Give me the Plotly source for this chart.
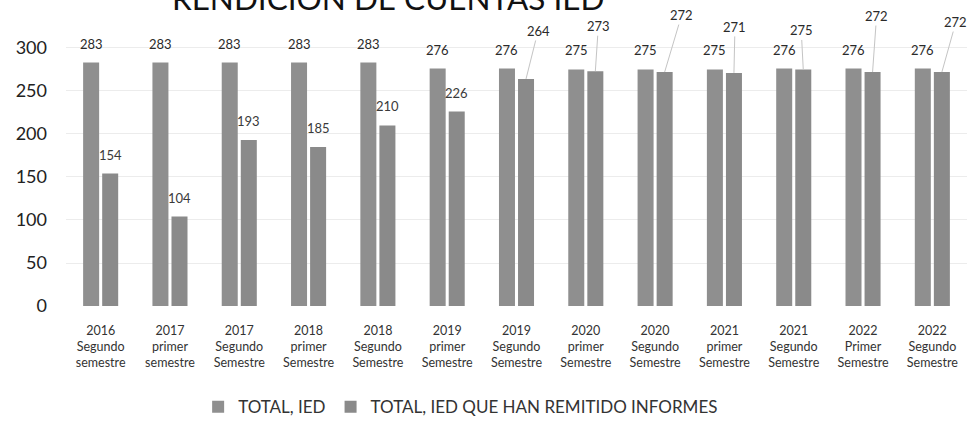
import plotly.graph_objects as go

# ---- data ----
periodos = [
    "2016<br>Segundo<br>semestre",
    "2017<br>primer<br>semestre",
    "2017<br>Segundo<br>Semestre",
    "2018<br>primer<br>Semestre",
    "2018<br>Segundo<br>Semestre",
    "2019<br>primer<br>Semestre",
    "2019<br>Segundo<br>Semestre",
    "2020<br>primer<br>Semestre",
    "2020<br>Segundo<br>Semestre",
    "2021<br>primer<br>Semestre",
    "2021<br>Segundo<br>Semestre",
    "2022<br>Primer<br>Semestre",
    "2022<br>Segundo<br>Semestre",
]
total_ied = [283, 283, 283, 283, 283, 276, 276, 275, 275, 275, 276, 276, 276]
ied_remitieron = [154, 104, 193, 185, 210, 226, 264, 273, 272, 271, 275, 272, 272]
series_names = ["TOTAL, IED", "TOTAL, IED QUE HAN REMITIDO INFORMES"]
y_ticks = [0, 50, 100, 150, 200, 250, 300]

# ---- style ----
FONT = "Lato"
BAR_COLOR_1 = "#8f8f8f"
BAR_COLOR_2 = "#8a8a8a"
BARGAP = 0.45
BARGROUPGAP = 0.16
# leader-line label offsets (pixels) for the second series, by index
leader_offsets = {6: (12, -48), 7: (3, -45), 8: (17, -57), 9: (1, -46),
                  10: (-2, -39), 11: (4, -56), 12: (14, -50)}

xs = list(range(len(periodos)))
half = (1 - BARGAP) / 4.0

fig = go.Figure()
fig.add_trace(go.Bar(x=xs, y=total_ied, name=series_names[0],
                     marker=dict(color=BAR_COLOR_1, line=dict(width=0))))
fig.add_trace(go.Bar(x=xs, y=ied_remitieron, name=series_names[1],
                     marker=dict(color=BAR_COLOR_2, line=dict(width=0))))

annotations = []
for i, v in enumerate(total_ied):
    annotations.append(dict(x=i - half, y=v, xref="x", yref="y", text=str(v),
                            showarrow=False, yshift=19, yanchor="middle",
                            font=dict(family=FONT, size=13, color="#2a2a2a")))
for i, v in enumerate(ied_remitieron):
    if i in leader_offsets:
        ax, ay = leader_offsets[i]
        annotations.append(dict(x=i + half, y=v, xref="x", yref="y", text=str(v),
                                showarrow=True, arrowhead=0, arrowwidth=1,
                                arrowcolor="#c4c4c4", ax=ax, ay=ay, standoff=0,
                                font=dict(family=FONT, size=13, color="#2a2a2a")))
    else:
        annotations.append(dict(x=i + half, y=v, xref="x", yref="y", text=str(v),
                                showarrow=False, yshift=19, yanchor="middle",
                                font=dict(family=FONT, size=13, color="#3a3a3a")))

fig.update_layout(
    width=968, height=425,
    margin=dict(l=66, r=1, t=14, b=119),
    paper_bgcolor="white", plot_bgcolor="white",
    barmode="group", bargap=BARGAP, bargroupgap=BARGROUPGAP,
    font=dict(family=FONT, color="#222"),
    title=dict(text="RENDICIÓN DE CUENTAS IED", x=0.401, xanchor="center",
               xref="container", yref="container", y=0.976, yanchor="bottom",
               font=dict(family=FONT, size=31.5, color="#111")),
    xaxis=dict(tickmode="array", tickvals=xs, ticktext=periodos,
               range=[-0.5, len(periodos) - 0.5], showgrid=False, zeroline=False,
               showline=False, ticks="", ticklabelstandoff=15,
               tickfont=dict(family=FONT, size=12.5, color="#333")),
    yaxis=dict(range=[0, 339.5], tickmode="array", tickvals=y_ticks,
               showgrid=True, gridcolor="#ececec", gridwidth=1, zeroline=False,
               showline=False, ticks="", ticklabelstandoff=18,
               tickfont=dict(family=FONT, size=18, color="#222")),
    legend=dict(orientation="h", x=0.438, xanchor="center", y=0.042,
                yanchor="middle", yref="container",
                font=dict(family=FONT, size=17, color="#333"),
                itemwidth=30, traceorder="normal"),
    annotations=annotations,
)

fig.write_html("out.html", config={"displayModeBar": False},
               post_script="document.body.style.margin='0px';document.body.style.padding='0px';")
